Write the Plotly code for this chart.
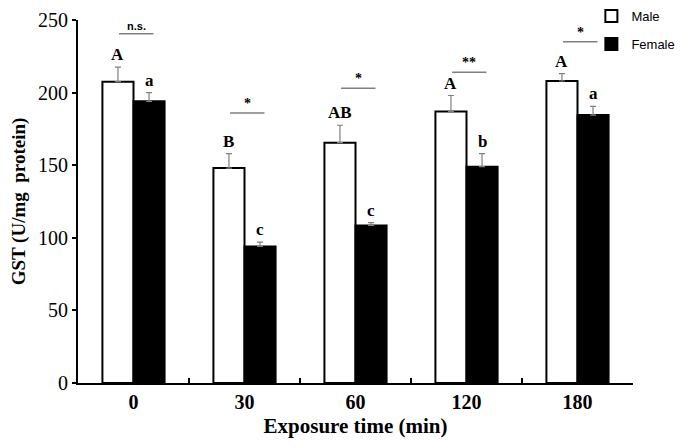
import plotly.graph_objects as go

categories = ["0", "30", "60", "120", "180"]
male = [207.5, 148, 165.5, 187, 208]
male_err = [10, 10, 12, 11, 5]
female = [194, 94, 108.5, 149, 184.5]
female_err = [6, 3, 2, 9, 6]
male_letters = ["A", "B", "AB", "A", "A"]
female_letters = ["a", "c", "c", "b", "a"]
sig_labels = ["n.s.", "*", "*", "**", "*"]
sig_heights = [240.5, 186, 203, 214, 235]

serif = "Liberation Serif"

fig = go.Figure()
fig.add_trace(go.Bar(
    x=categories, y=male, name="Male", legendgroup="m",
    marker=dict(color="white", line=dict(color="black", width=2)),
    error_y=dict(type="data", array=male_err, arrayminus=[0]*5, symmetric=False,
                 color="#808080", thickness=1.2, width=3),
))
fig.add_trace(go.Bar(
    x=categories, y=female, name="Female", legendgroup="f",
    marker=dict(color="black", line=dict(color="black", width=2)),
    error_y=dict(type="data", array=female_err, arrayminus=[0]*5, symmetric=False,
                 color="#808080", thickness=1.2, width=3),
))

off = 0.14
for i in range(len(categories)):
    fig.add_annotation(x=i - off, y=male[i] + male_err[i], text="<b>%s</b>" % male_letters[i],
                       showarrow=False, yanchor="bottom", yshift=1,
                       font=dict(family=serif, size=17, color="black"))
    fig.add_annotation(x=i + off, y=female[i] + female_err[i], text="<b>%s</b>" % female_letters[i],
                       showarrow=False, yanchor="bottom", yshift=1,
                       font=dict(family=serif, size=17, color="black"))
    fig.add_shape(type="line", xref="x", yref="y", x0=i - 0.13, x1=i + 0.18,
                  y0=sig_heights[i], y1=sig_heights[i], line=dict(color="#808080", width=1.5))
    fig.add_annotation(x=i + 0.025, y=sig_heights[i], text="<b>%s</b>" % sig_labels[i],
                       showarrow=False, yanchor="bottom", yshift=0,
                       font=dict(family=serif if sig_labels[i] != "n.s." else "Liberation Sans",
                                 size=11 if sig_labels[i] == "n.s." else 14, color="black"))

fig.update_layout(
    width=677, height=438,
    margin=dict(l=70, r=52, t=12, b=63, autoexpand=False),
    plot_bgcolor="white", paper_bgcolor="white",
    barmode="group", bargap=0.44, bargroupgap=0,
    showlegend=True,
    legend=dict(xref="paper", yref="paper", x=0.925, y=1.052, xanchor="left", yanchor="top",
                traceorder="grouped", tracegroupgap=8, itemwidth=30,
                font=dict(family="Liberation Sans", size=13, color="black"),
                bgcolor="rgba(0,0,0,0)"),
    xaxis=dict(type="category", showline=True, linecolor="black", linewidth=2,
               ticks="inside", tickson="boundaries", ticklen=5, tickcolor="black", tickwidth=2,
               tickfont=dict(family=serif, size=20, color="black"),
               title=dict(text="<b>Exposure time (min)</b>", font=dict(family=serif, size=21, color="black"),
                          standoff=6),
               showgrid=False, range=[-0.5, 4.5]),
    yaxis=dict(range=[0, 250], tickvals=[0, 50, 100, 150, 200, 250], showline=True, linecolor="black",
               linewidth=2, ticks="outside", ticklen=4, tickcolor="black", tickwidth=2,
               ticklabeloverflow="allow",
               tickfont=dict(family=serif, size=20, color="black"),
               title=dict(text="<b>GST (U/mg  protein)</b>", font=dict(family=serif, size=19, color="black"),
                          standoff=12),
               showgrid=False, zeroline=False),
)
fig.update_xaxes(tickprefix="<b>", ticksuffix="</b>")
fig.update_yaxes(tickprefix="<b>", ticksuffix="</b>")

fig.write_html("out.html")
